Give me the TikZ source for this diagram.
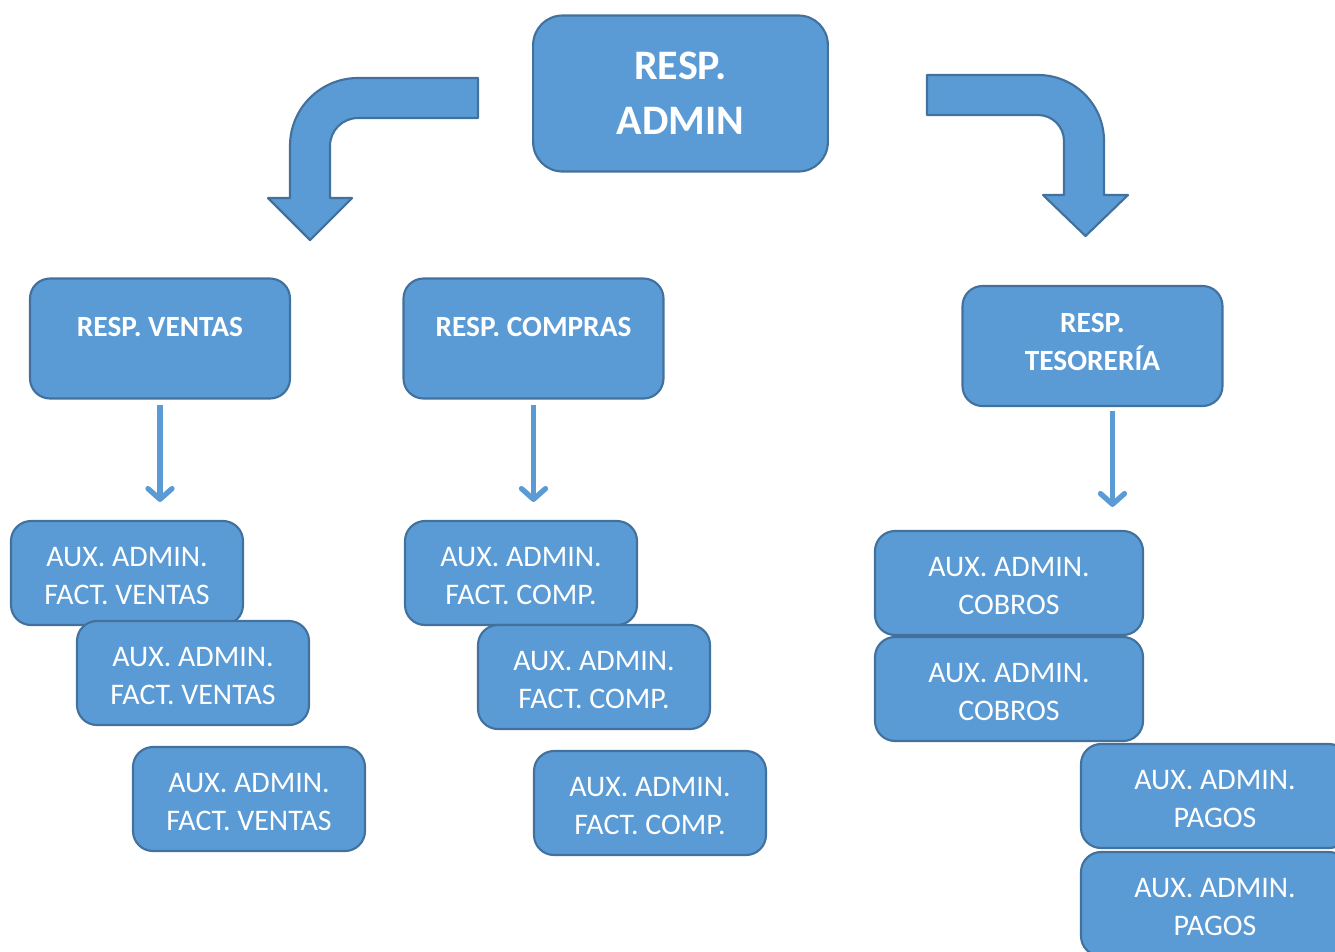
\documentclass[tikz,border=0pt]{standalone}
\usepackage{fontspec}
\setmainfont{Carlito}
\usepackage{tikz}
\usetikzlibrary{arrows.meta, positioning, calc}
\definecolor{orgblue}{RGB}{91,155,213}
\definecolor{orgborder}{RGB}{65,113,156}

\tikzset{
  box/.style={draw=orgborder, fill=orgblue, line width=1.6pt, text=white, align=center, inner sep=0pt},
  jefe/.style={box, rounded corners=22pt, minimum width=221pt, minimum height=117pt,
    font=\bfseries\fontsize{31.5}{41}\selectfont},
  resp/.style={box, rounded corners=15pt, minimum width=195pt, minimum height=90pt,
    font=\bfseries\fontsize{22}{28.5}\selectfont},
  aux/.style={box, rounded corners=15pt, minimum width=174pt, minimum height=78pt,
    font=\fontsize{22.4}{28.5}\selectfont, text height=47.5pt},
  auxwide/.style={aux, minimum width=201pt},
  flecha/.style={draw=orgblue, line width=4pt, -{Straight Barb[length=8pt,width=18pt,round]}},
  bigarrow/.style={draw=orgborder, fill=orgblue, line width=1.6pt, line join=round}
}

\begin{document}
\begin{tikzpicture}[x=0.75pt,y=-0.75pt]
\useasboundingbox (0,0) rectangle (1335,951);
\clip (0,0) rectangle (1335,951);
% Top
\node[jefe] (admin) at (680.5,93.5) {RESP.\\ADMIN};
% Bent arrows
\draw[bigarrow] (478,78) -- (358,78) .. controls (320.4,78) and (290,108.4) .. (290,146)
  -- (290,198) -- (268,198) -- (310,240) -- (352,198) -- (330,198) -- (330,146)
  .. controls (330,130.5) and (342.5,118) .. (358,118) -- (478,118) -- cycle;
\draw[bigarrow] (927,75) -- (1038,75) .. controls (1074.5,75) and (1104,104.5) .. (1104,141)
  -- (1104,195) -- (1128,195) -- (1085.5,236) -- (1043,195) -- (1064,195) -- (1064,141)
  .. controls (1064,126.6) and (1052.4,115) .. (1038,115) -- (927,115) -- cycle;
% Second level
\node[resp, text depth=18pt] (ventas) at (160,338.5) {RESP. VENTAS};
\node[resp, text depth=18pt] (compras) at (533.5,338.5) {RESP. COMPRAS};
\node[resp, text depth=6pt] (tesoreria) at (1092.5,346) {RESP.\\TESORERÍA};
% Ventas
\node[aux] (auxv1) at (127,573) {AUX. ADMIN.\\FACT. VENTAS};
\node[aux] (auxv2) at (193,673) {AUX. ADMIN.\\FACT. VENTAS};
\node[aux] (auxv3) at (249,799) {AUX. ADMIN.\\FACT. VENTAS};
% Compras
\node[aux] (auxc1) at (521,573) {AUX. ADMIN.\\FACT. COMP.};
\node[aux] (auxc2) at (594,677) {AUX. ADMIN.\\FACT. COMP.};
\node[aux] (auxc3) at (650,803) {AUX. ADMIN.\\FACT. COMP.};
% Tesoreria
\node[auxwide] (cobros1) at (1009,583) {AUX. ADMIN.\\COBROS};
\node[auxwide] (cobros2) at (1009,689) {AUX. ADMIN.\\COBROS};
\node[auxwide] (pagos1) at (1215,796) {AUX. ADMIN.\\PAGOS};
\node[auxwide] (pagos2) at (1215,904) {AUX. ADMIN.\\PAGOS};
% Thin arrows
\draw[flecha] ($(ventas.south)+(0,5)$) -- ($(ventas.south |- auxv1.north)+(0,-18)$);
\draw[flecha] ($(compras.south)+(0,5)$) -- ($(compras.south |- auxc1.north)+(0,-18)$);
\draw[flecha] ($(tesoreria.south)+(20,4)$) -- ($(tesoreria.south |- cobros1.north)+(20,-23)$);
\end{tikzpicture}
\end{document}
